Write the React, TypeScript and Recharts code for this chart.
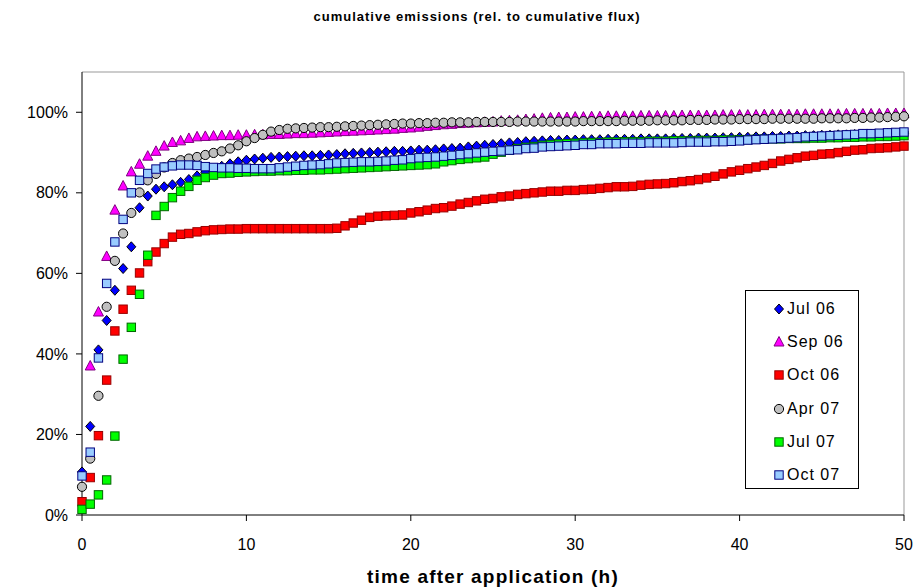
import { ScatterChart, Scatter, XAxis, YAxis, ReferenceLine } from "recharts";

// time after application, h
const hours = [
  0, 0.5, 1, 1.5, 2, 2.5, 3, 3.5, 4, 4.5,
  5, 5.5, 6, 6.5, 7, 7.5, 8, 8.5, 9, 9.5,
  10, 10.5, 11, 11.5, 12, 12.5, 13, 13.5, 14, 14.5,
  15, 15.5, 16, 16.5, 17, 17.5, 18, 18.5, 19, 19.5,
  20, 20.5, 21, 21.5, 22, 22.5, 23, 23.5, 24, 24.5,
  25, 25.5, 26, 26.5, 27, 27.5, 28, 28.5, 29, 29.5,
  30, 30.5, 31, 31.5, 32, 32.5, 33, 33.5, 34, 34.5,
  35, 35.5, 36, 36.5, 37, 37.5, 38, 38.5, 39, 39.5,
  40, 40.5, 41, 41.5, 42, 42.5, 43, 43.5, 44, 44.5,
  45, 45.5, 46, 46.5, 47, 47.5, 48, 48.5, 49, 49.5,
  50,
];

// cumulative emissions, % of cumulative flux
const jul06 = [
  10.7, 22, 41, 48.3, 55.8, 61.2, 66.6, 76.3, 79.2, 80.9,
  81.5, 82.0, 82.6, 83.3, 84.2, 85.1, 85.9, 86.6, 87.2, 87.7,
  88.1, 88.4, 88.6, 88.8, 88.9, 89.0, 89.1, 89.2, 89.2, 89.3,
  89.4, 89.5, 89.7, 89.8, 89.9, 90.0, 90.1, 90.2, 90.3, 90.3,
  90.4, 90.6, 90.6, 90.7, 90.9, 91.0, 91.1, 91.4, 91.6, 91.8,
  92.0, 92.2, 92.4, 92.5, 92.7, 92.8, 92.9, 93.0, 93.0, 93.1,
  93.1, 93.2, 93.2, 93.2, 93.3, 93.3, 93.3, 93.3, 93.4, 93.4,
  93.4, 93.4, 93.5, 93.5, 93.5, 93.6, 93.6, 93.6, 93.7, 93.7,
  93.8, 93.8, 93.9, 93.9, 94.0, 94.0, 94.1, 94.1, 94.2, 94.2,
  94.3, 94.3, 94.4, 94.4, 94.5, 94.5, 94.6, 94.6, 94.7, 94.7,
  94.8,
];

const sep06 = [
  null, 37, 50.4, 64.2, 75.7, 81.7, 85.2, 87.1, 89.1, 90.3,
  91.6, 92.5, 92.9, 93.5, 93.9, 94.0, 94.1, 94.2, 94.2, 94.3,
  94.3, 94.4, 94.4, 94.5, 94.5, 94.6, 94.7, 94.7, 94.8, 94.9,
  95.0, 95.1, 95.2, 95.3, 95.4, 95.5, 95.6, 95.7, 95.8, 96.0,
  96.1, 96.3, 96.5, 96.7, 96.9, 97.0, 97.2, 97.3, 97.4, 97.5,
  97.6, 97.8, 97.9, 98.0, 98.2, 98.3, 98.5, 98.6, 98.7, 98.7,
  98.8, 98.8, 98.9, 98.9, 99.0, 99.0, 99.0, 99.0, 99.1, 99.1,
  99.1, 99.1, 99.1, 99.2, 99.2, 99.2, 99.2, 99.2, 99.3, 99.3,
  99.3, 99.3, 99.3, 99.4, 99.4, 99.4, 99.4, 99.4, 99.5, 99.5,
  99.5, 99.5, 99.5, 99.6, 99.6, 99.6, 99.6, 99.6, 99.7, 99.7,
  99.7,
];

const oct06 = [
  3.3, 9.3, 19.7, 33.5, 45.7, 51.1, 55.8, 60.1, 62.9, 65.3,
  67.4, 69.0, 69.7, 69.9, 70.3, 70.6, 70.8, 70.9, 71.0, 71.0,
  71.1, 71.1, 71.1, 71.1, 71.1, 71.1, 71.1, 71.1, 71.1, 71.1,
  71.1, 71.2, 71.8, 72.5, 73.2, 73.9, 74.2, 74.3, 74.4, 74.5,
  75.0, 75.3, 75.7, 76.1, 76.3, 76.7, 77.2, 77.6, 78.0, 78.4,
  78.6, 79.0, 79.2, 79.6, 79.8, 80.0, 80.2, 80.4, 80.4, 80.6,
  80.6, 80.8, 80.9, 81.1, 81.3, 81.5, 81.5, 81.6, 81.9, 82.1,
  82.2, 82.3, 82.5, 82.8, 83.0, 83.3, 83.7, 84.1, 84.7, 85.2,
  85.6, 86.0, 86.4, 86.8, 87.3, 87.9, 88.3, 88.7, 89.1, 89.3,
  89.6, 89.7, 90.0, 90.3, 90.6, 90.7, 91.0, 91.1, 91.2, 91.4,
  91.6,
];

const apr07 = [
  7.0, 14.0, 29.6, 51.7, 63.1, 69.9, 75.0, 80.1, 83.1, 84.7,
  86.3, 87.4, 88.1, 88.5, 88.9, 89.4, 89.9, 90.3, 91.0, 91.8,
  92.8, 93.6, 94.4, 95.2, 95.6, 95.9, 96.0, 96.1, 96.2, 96.3,
  96.3, 96.4, 96.5, 96.6, 96.7, 96.8, 96.9, 97.0, 97.1, 97.2,
  97.2, 97.3, 97.3, 97.4, 97.4, 97.5, 97.5, 97.5, 97.6, 97.6,
  97.6, 97.6, 97.6, 97.7, 97.7, 97.7, 97.7, 97.7, 97.7, 97.7,
  97.7, 97.8, 97.8, 97.8, 97.8, 97.8, 97.9, 97.9, 97.9, 97.9,
  98.0, 98.0, 98.0, 98.0, 98.1, 98.1, 98.1, 98.2, 98.2, 98.2,
  98.3, 98.3, 98.3, 98.3, 98.4, 98.4, 98.4, 98.4, 98.4, 98.4,
  98.5, 98.5, 98.5, 98.5, 98.6, 98.6, 98.7, 98.7, 98.8, 98.9,
  99.0,
];

const jul07 = [
  1.4, 2.7, 5.0, 8.7, 19.6, 38.7, 46.6, 54.8, 64.5, 74.4,
  76.6, 78.8, 80.4, 81.6, 83.1, 83.8, 84.4, 84.8, 84.9, 85.1,
  85.2, 85.3, 85.4, 85.4, 85.5, 85.5, 85.6, 85.6, 85.7, 85.7,
  85.8, 85.9, 86.0, 86.1, 86.2, 86.3, 86.4, 86.5, 86.6, 86.7,
  86.8, 86.9, 87.0, 87.2, 87.7, 88.0, 88.3, 88.5, 88.7, 88.9,
  89.6, 90.1, 90.6, 91.0, 91.3, 91.5, 91.8, 92.0, 92.1, 92.2,
  92.3, 92.4, 92.5, 92.5, 92.6, 92.6, 92.7, 92.7, 92.7, 92.8,
  92.8, 92.8, 92.9, 92.9, 92.9, 93.0, 93.0, 93.0, 93.1, 93.1,
  93.2, 93.2, 93.3, 93.3, 93.4, 93.4, 93.5, 93.5, 93.5, 93.6,
  93.6, 93.7, 93.7, 93.8, 93.8, 93.9, 93.9, 94.0, 94.0, 94.1,
  94.2,
];

const oct07 = [
  9.7, 15.6, 39.0, 57.5, 67.8, 73.4, 80.0, 83.1, 84.8, 85.9,
  86.4, 86.7, 86.9, 86.9, 86.8, 86.5, 86.3, 86.2, 86.2, 86.1,
  86.1, 86.0, 86.0, 86.0, 86.2, 86.4, 86.6, 86.8, 86.9, 87.0,
  87.2, 87.4, 87.5, 87.6, 87.7, 87.7, 87.8, 87.9, 88.1, 88.2,
  88.5, 88.7, 88.8, 88.9, 89.1, 89.3, 89.5, 89.7, 89.9, 90.1,
  90.3, 90.4, 90.6, 90.7, 91.0, 91.1, 91.4, 91.5, 91.6, 91.7,
  91.8, 92.0, 92.0, 92.2, 92.2, 92.2, 92.3, 92.3, 92.3, 92.4,
  92.4, 92.4, 92.4, 92.5, 92.6, 92.6, 92.6, 92.7, 92.7, 92.8,
  92.9, 93.1, 93.2, 93.3, 93.4, 93.5, 93.6, 93.7, 93.9, 94.0,
  94.1, 94.2, 94.3, 94.4, 94.5, 94.7, 94.7, 94.8, 94.9, 95.0,
  95.1,
];

const xTicks = [0, 10, 20, 30, 40, 50];
const yTicks = [0, 20, 40, 60, 80, 100];

const FONT = "'Liberation Sans', Arial, Helvetica, sans-serif";

const series = [
  { name: "Jul 06", values: jul06, kind: "diamond", fill: "#0000FF", stroke: "#000000" },
  { name: "Sep 06", values: sep06, kind: "triangle", fill: "#FF00FF", stroke: "#800080" },
  { name: "Oct 06", values: oct06, kind: "square", fill: "#FF0000", stroke: "#990000" },
  { name: "Apr 07", values: apr07, kind: "circle", fill: "#C0C0C0", stroke: "#000000" },
  { name: "Jul 07", values: jul07, kind: "square", fill: "#00FF00", stroke: "#006600" },
  { name: "Oct 07", values: oct07, kind: "square", fill: "#99CCFF", stroke: "#000080" },
];

function Marker({ kind, fill, stroke, cx, cy }: any) {
  if (cx == null || cy == null) return null;
  if (kind === "diamond") {
    const p = `${cx},${cy - 5} ${cx + 4.5},${cy} ${cx},${cy + 5} ${cx - 4.5},${cy}`;
    return <polygon points={p} fill={fill} stroke={stroke} strokeWidth={1} />;
  }
  if (kind === "triangle") {
    const p = `${cx},${cy - 5.5} ${cx + 5},${cy + 4} ${cx - 5},${cy + 4}`;
    return <polygon points={p} fill={fill} stroke={stroke} strokeWidth={1} />;
  }
  if (kind === "circle") {
    return <circle cx={cx} cy={cy} r={4.6} fill={fill} stroke={stroke} strokeWidth={1} />;
  }
  return <rect x={cx - 4.2} y={cy - 4.2} width={8.4} height={8.4} fill={fill} stroke={stroke} strokeWidth={1} />;
}

function LegendBox() {
  return (
    <div
      style={{
        position: "absolute",
        left: 745,
        top: 290,
        width: 114,
        height: 199,
        border: "1px solid #000",
        background: "#fff",
        boxSizing: "border-box",
        padding: "1px 0 0 27px",
        fontFamily: FONT,
        fontSize: 16,
        letterSpacing: 1,
      }}
    >
      {series.map((s) => (
        <div key={s.name} style={{ display: "flex", alignItems: "center", height: 33.3 }}>
          <svg width={12} height={12} style={{ marginRight: 2 }}>
            <Marker kind={s.kind} fill={s.fill} stroke={s.stroke} cx={6} cy={6} />
          </svg>
          <span>{s.name}</span>
        </div>
      ))}
    </div>
  );
}

export default function App() {
  return (
    <div style={{ position: "absolute", left: 0, top: 0, width: 917, height: 588, background: "#fff" }}>
      <ScatterChart width={917} height={588} margin={{ top: 72, right: 13, bottom: 0, left: 0 }}>
        <XAxis
          type="number"
          dataKey="x"
          domain={[0, 50]}
          ticks={xTicks}
          interval={0}
          tickSize={6}
          tickMargin={18}
          height={73}
          axisLine={{ stroke: "#000" }}
          tickLine={{ stroke: "#000" }}
          tick={{ fill: "#000", fontSize: 16, fontFamily: FONT }}
          label={{
            value: "time after application (h)",
            position: "insideBottom",
            offset: 5,
            style: { fill: "#000", fontSize: 19, fontWeight: "bold", fontFamily: FONT, letterSpacing: 1.2 },
          }}
        />
        <YAxis
          type="number"
          dataKey="y"
          domain={[0, 110]}
          ticks={yTicks}
          interval={0}
          width={82}
          tickSize={6}
          tickMargin={8}
          tickFormatter={(v: number) => `${v}%`}
          axisLine={{ stroke: "#000" }}
          tickLine={{ stroke: "#000" }}
          tick={{ fill: "#000", fontSize: 16, fontFamily: FONT }}
        />
        <ReferenceLine y={110} stroke="#999" />
        <ReferenceLine x={50} stroke="#999" />
        {series.map((s) => (
          <Scatter
            key={s.name}
            name={s.name}
            data={hours
              .map((x, i) => ({ x, y: s.values[i] }))
              .filter((d) => d.y != null)}
            isAnimationActive={false}
            shape={(p: any) => <Marker kind={s.kind} fill={s.fill} stroke={s.stroke} cx={p.cx} cy={p.cy} />}
          />
        ))}
      </ScatterChart>
      <div
        style={{
          position: "absolute",
          top: 9,
          left: 0,
          width: 954,
          textAlign: "center",
          fontFamily: FONT,
          fontWeight: "bold",
          fontSize: 13,
          letterSpacing: 1,
        }}
      >
        cumulative emissions (rel. to cumulative flux)
      </div>
      <LegendBox />
    </div>
  );
}
